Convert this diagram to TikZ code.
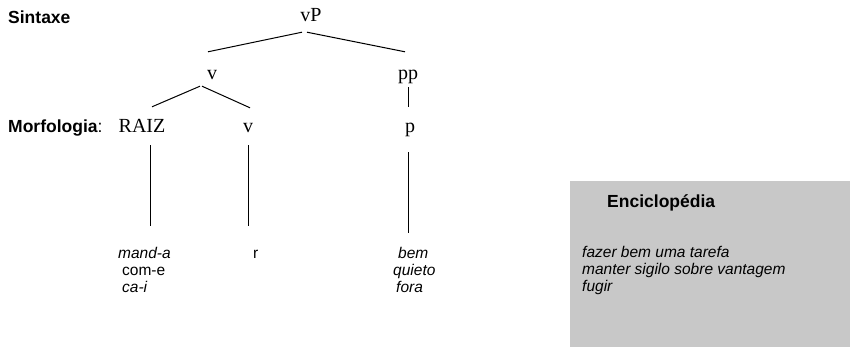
\documentclass[tikz,border=0pt]{standalone}
\usepackage{fontspec}
\setmainfont{Liberation Serif}
\setsansfont{Liberation Sans}
\usetikzlibrary{positioning}
\definecolor{encbg}{RGB}{200,200,200}
\tikzset{
cat/.style={font=\fontsize{20}{24}\selectfont, inner sep=0pt,
	text height=14pt, text depth=4pt},
head/.style={font=\sffamily\bfseries\fontsize{17.5}{21}\selectfont,
	inner sep=0pt, anchor=west},
form/.style={font=\sffamily\fontsize{15.5}{18}\selectfont, inner sep=0pt,
	text height=11pt, text depth=3pt, anchor=west},
branch/.style={line width=1pt}
}

\begin{document}
\begin{tikzpicture}[x=1pt, y=-1pt]
	\useasboundingbox (0,0) rectangle (850,347);
	% levels
	\node[head] (sintaxe) at (8,17) {Sintaxe};
	\node[head] (morfo) at (8,128) {Morfologia\textmd{:}};
	% tree
	\node[cat] (vP) at (311,17) {vP};
	\node[cat] (vbar) at (212,75) {v};
	\node[cat] (pp) at (408,75) {pp};
	\node[cat] (raiz) at (142,128) {RAIZ};
	\node[cat] (vhead) at (248,128) {v};
	\node[cat] (p) at (410,128) {p};
	\draw[branch] ([xshift=-9pt,yshift=-6pt]vP.south) -- ([xshift=-4pt,yshift=14pt]vbar.north);
	\draw[branch] ([xshift=-4pt,yshift=-6pt]vP.south) -- ([xshift=-3pt,yshift=14pt]pp.north);
	\draw[branch] ([xshift=-12pt,yshift=-2pt]vbar.south) -- ([xshift=10pt,yshift=12pt]raiz.north);
	\draw[branch] ([xshift=-10pt,yshift=-2pt]vbar.south) -- ([xshift=2pt,yshift=11pt]vhead.north);
	\draw[branch] ([yshift=-3pt]pp.south) -- ([xshift=-2pt,yshift=12pt]p.north);
	% exponents
	\node[form] (manda) at (118,254) {\itshape mand-a};
	\node[form] (come) at (122,271) {com-e};
	\node[form] (cai) at (122,288) {\itshape ca-i};
	\node[form] (r) at (253,254) {r};
	\node[form] (bem) at (398,254) {\itshape bem};
	\node[form] (quieto) at (393,271) {\itshape quieto};
	\node[form] (fora) at (396,288) {\itshape fora};
	\draw[branch, shorten <=8pt, shorten >=21pt] ([xshift=8pt]raiz.south) -- ([xshift=8pt]raiz.south |- manda.north);
	\draw[branch, shorten <=8pt, shorten >=21pt] (vhead.south) -- (vhead.south |- r.north);
	\draw[branch, shorten <=15pt, shorten >=14pt] ([xshift=-2pt]p.south) -- ([xshift=-2pt]p.south |- bem.north);
	% encyclopedia
	\fill[encbg] (570,181) rectangle (850,347);
	\node[head] (enc) at (607,203) {Enciclopédia};
	\node[form] (tarefa) at (582,253) {\itshape fazer bem uma tarefa};
	\node[form] (sigilo) at (582,270) {\itshape manter sigilo sobre vantagem};
	\node[form] (fugir) at (582,287) {\itshape fugir};
\end{tikzpicture}
\end{document}
